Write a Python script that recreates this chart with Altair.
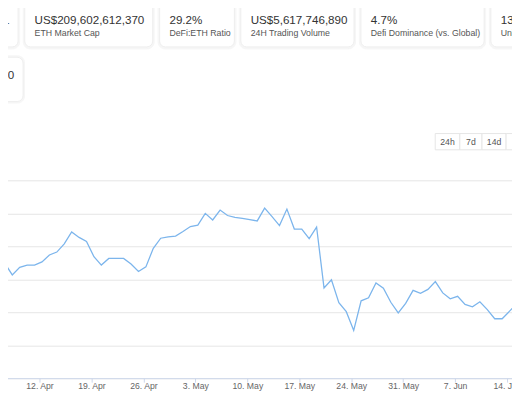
import altair as alt
import pandas as pd

# ---------------- data ----------------
# daily points, 6 Apr 2021 08:00 .. 15 Jun 2021 08:00 (values in US$ billions)
dates = pd.date_range("2021-04-06 08:00", "2021-06-15 08:00", freq="D")
values = [87.3, 89.7, 82.7, 87.3, 88.7, 88.7, 90.6, 94.8, 96.6, 101.6,
          108.8, 105.5, 103.0, 93.8, 88.7, 92.7, 92.7, 92.7, 89.3, 84.8,
          87.6, 98.9, 105.0, 105.8, 106.3, 109.1, 112.1, 113.0, 120.1, 116.1,
          122.1, 118.8, 117.7, 117.1, 116.3, 115.5, 123.3, 118.1, 112.7, 122.7,
          110.6, 110.5, 104.8, 111.8, 74.8, 79.8, 65.8, 60.4, 49.0, 67.0,
          68.8, 77.8, 74.6, 66.1, 59.6, 65.4, 73.3, 71.5, 73.9, 78.7,
          71.8, 68.2, 69.7, 64.8, 63.3, 66.4, 61.6, 56.1, 56.1, 60.7,
          65.4]

# x tick labels (weekly, Mondays)
x_ticks = [(4, 12), (4, 19), (4, 26), (5, 3), (5, 10), (5, 17), (5, 24),
           (5, 31), (6, 7), (6, 14)]
y_ticks = [20, 40, 60, 80, 100, 120, 140]

card_values = ["11", "US$209,602,612,370", "29.2%", "US$5,617,746,890",
               "4.7%", "13"]
card_labels = ["", "ETH Market Cap", "DeFi:ETH Ratio", "24H Trading Volume",
               "Defi Dominance (vs. Global)", "Uniswap"]
card2_value = "710"
card2_label = "L)"
buttons = ["24h", "7d", "14d", "30d"]

# ---------------- layout (page pixels, offset by 8px page margin) -------------
OX, OY = 8, 8
FONT = "Liberation Sans"

df = pd.DataFrame({"date": dates, "value": values})

x_scale = alt.Scale(
    domain=[alt.DateTime(year=2021, month=4, date=6),
            alt.DateTime(year=2021, month=6, date=16)],
    range=[-5.24 - OX, 530.1 - OX],
)
y_scale = alt.Scale(domain=[20, 140], range=[381 - OY, 180.3 - OY],
                    nice=False, zero=False)

line = alt.Chart(df).mark_line(color="#7cb5ec", strokeWidth=1.3, clip=True).encode(
    x=alt.X("date:T", scale=x_scale,
            axis=alt.Axis(values=[alt.DateTime(year=2021, month=m, date=d) for m, d in x_ticks],
                          format="%-d. %b", title=None, grid=False,
                          domainColor="#ccd6eb", tickColor="#ccd6eb", tickSize=4,
                          labelFontSize=8.8, labelColor="#666666", labelFont=FONT,
                          labelBaseline="middle", labelPadding=4,
                          labelFlush=False, labelOverlap=False, labelBound=False)),
    y=alt.Y("value:Q", scale=y_scale,
            axis=alt.Axis(values=y_ticks, grid=True, gridColor="#e6e6e6",
                          labels=False, ticks=False, domain=False, title=None)),
)


def box(x1, x2, y1, y2, fill, stroke, radius):
    return alt.Chart(alt.Data(values=[{}])).mark_rect(
        fill=fill, stroke=stroke, strokeWidth=1, cornerRadius=radius
    ).encode(x=alt.value(x1 - OX), x2=alt.value(x2 - OX),
             y=alt.value(y1 - OY), y2=alt.value(y2 - OY))


def label(text, x, y, size, color, align="left", baseline="alphabetic"):
    return alt.Chart(pd.DataFrame({"t": [text]})).mark_text(
        align=align, baseline=baseline, fontSize=size, font=FONT, color=color
    ).encode(x=alt.value(x - OX), y=alt.value(y - OY), text="t:N")


layers = []
# top-row cards
card_boxes = [(-30, 18.3), (25, 155), (162, 238), (244.5, 359.5),
              (366.5, 491.7), (498.5, 580)]
for i, (x1, x2) in enumerate(card_boxes):
    layers.append(box(x1 - 1.5, x2 + 1.5, -12, 46.5, "#f6f6f6", "#f6f6f6", 7))
    layers.append(box(x1, x2, -10, 44.5, "#ffffff", "#eeeeee", 6))
    if i == 0:
        layers.append(label(card_values[i], 9.5, 20.7, 11.8, "#333333", align="right"))
    else:
        layers.append(label(card_values[i], x1 + 10, 20.7, 11.8, "#333333"))
        layers.append(label(card_labels[i], x1 + 10, 33.2, 8.9, "#555555"))

# second-row card
layers.append(box(-31.5, 24.8, 53.5, 101.5, "#f6f6f6", "#f6f6f6", 7))
layers.append(box(-30, 23.3, 55, 100, "#ffffff", "#eeeeee", 6))
layers.append(label(card2_value, 14.3, 76.7, 11.8, "#333333", align="right"))
layers.append(label(card2_label, 7.5, 89.3, 8.9, "#555555", align="right"))

# range buttons
btn_edges = [442, 467, 489.5, 514, 545]
for i, b in enumerate(buttons):
    x1, x2 = btn_edges[i], btn_edges[i + 1]
    layers.append(box(x1, x2, 132.5, 149, "#ffffff", "#e6e6e6", 0))
    layers.append(label(b, (x1 + x2) / 2, 141, 8.8, "#555555",
                        align="center", baseline="middle"))

chart = alt.layer(line, *layers).properties(
    width=512, height=381 - OY,
    autosize=alt.AutoSizeParams(type="none"),
    padding={"left": 0, "top": 0, "right": 0, "bottom": 11},
    background="#ffffff",
).configure_view(strokeWidth=0)

chart.save("out.html", embed_options={"renderer": "svg", "actions": False})
